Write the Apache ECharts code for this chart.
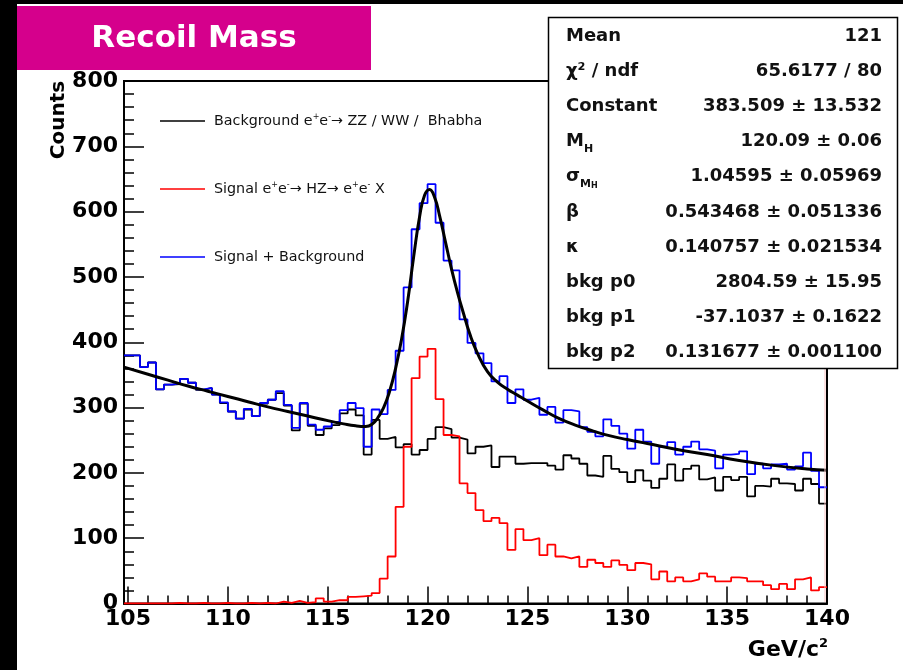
<!DOCTYPE html>
<html>
<head>
<meta charset="utf-8">
<script src="https://cdn.jsdelivr.net/npm/echarts@6/dist/echarts.min.js"></script>
<style>
  html, body { margin: 0; padding: 0; background: #ffffff; }
  #chart { width: 903px; height: 670px; }
</style>
</head>
<body>
<div id="chart"></div>
<script>
// Histogram binning: 88 bins of 0.4 GeV
const HIST_MIN = 104.8;
const HIST_MAX = 140.0;
const N_BINS = 88;

// Background e+e- -> ZZ / WW / Bhabha (counts per bin)
const background = [
  380, 380, 362, 369, 328, 335, 336, 344, 338, 327,
  330, 320, 307, 294, 283, 297, 287, 306, 312, 322,
  303, 265, 306, 272, 258, 268, 273, 291, 297, 288,
  228, 281, 252, 255, 239, 244, 228, 235, 252, 270,
  267, 254, 251, 230, 240, 242, 209, 225, 225, 214,
  215, 215, 215, 211, 205, 227, 222, 214, 196, 194,
  226, 206, 201, 186, 204, 188, 177, 191, 213, 188,
  206, 211, 190, 193, 173, 194, 189, 194, 164, 180,
  179, 191, 184, 183, 173, 191, 183, 153
];

// Signal e+e- -> HZ -> e+e- X
const signal = [
  0, 0, 0, 0, 0, 0, 1, 0, 0, 1,
  0, 0, 1, 0, 0, 1, 0, 1, 0, 3,
  1, 4, 1, 2, 8, 3, 5, 5, 10, 11,
  12, 16, 38, 72, 148, 240, 345, 378, 390, 313,
  258, 256, 184, 169, 143, 126, 131, 123, 82, 114,
  97, 100, 74, 90, 72, 69, 72, 56, 67, 62,
  56, 66, 59, 51, 62, 60, 37, 49, 34, 40,
  34, 37, 46, 41, 34, 34, 40, 39, 34, 34,
  28, 22, 30, 22, 37, 40, 20, 25
];

// Signal + Background
const total = [
  380, 380, 362, 369, 328, 335, 337, 344, 338, 328,
  330, 320, 308, 294, 283, 298, 287, 307, 312, 325,
  304, 269, 307, 274, 266, 271, 278, 296, 307, 299,
  240, 297, 290, 327, 387, 484, 573, 613, 642, 583,
  525, 510, 435, 399, 383, 368, 340, 348, 307, 328,
  312, 315, 289, 301, 277, 296, 294, 270, 263, 256,
  282, 272, 260, 237, 266, 248, 214, 240, 247, 228,
  240, 248, 236, 234, 207, 228, 229, 233, 198, 214,
  207, 213, 214, 205, 210, 231, 203, 178
];

// Fitted curve (signal peak + quadratic background), sampled along the axis
const fitX = [104.8, 106, 107, 108, 109, 110, 111, 112, 113, 114, 115, 115.8, 116.4, 116.9,
  117.2, 117.5, 117.8, 118.1, 118.4, 118.7, 119.0, 119.3, 119.6, 119.85, 120.1, 120.35,
  120.6, 120.9, 121.2, 121.5, 121.8, 122.1, 122.5, 123.0, 123.5, 124.0, 124.5, 125.0,
  125.8, 126.6, 127.5, 128.3, 129.1, 130, 131, 132.3, 134, 135.6, 137.3, 139, 140];
const fitY = [362, 351, 342, 333, 325, 317, 309, 301, 294, 287, 280, 275, 272, 271,
  274, 284, 300, 325, 360, 405, 462, 530, 592, 625, 634, 622,
  594, 553, 512, 476, 444, 414, 383, 355, 339, 328, 319, 310,
  296, 283, 272, 264, 257, 251, 245, 237, 228, 219, 211.5, 206, 204];

// Axis ticks
const xMajorTicks = [105, 110, 115, 120, 125, 130, 135, 140];
const xMinorTicks = [];
for (let v = 105; v <= 140; v++) xMinorTicks.push(v);

// Fit results box
const statLabels = ['Mean', 'χ² / ndf', 'Constant', 'M{sub|H}', 'σ{sub|M}{sub2|H}', 'β', 'κ', 'bkg p0', 'bkg p1', 'bkg p2'];
const statValues = ['121', '65.6177 / 80', '383.509 ± 13.532', '120.09 ± 0.06', '1.04595 ± 0.05969',
  '0.543468 ± 0.051336', '0.140757 ± 0.021534', '2804.59 ± 15.95', '-37.1037 ± 0.1622', '0.131677 ± 0.001100'];

const FONT = "'DejaVu Sans', sans-serif";
const binWidth = (HIST_MAX - HIST_MIN) / N_BINS;

function stepData(values) {
  const pts = values.map((v, i) => [HIST_MIN + i * binWidth, v]);
  pts.push([HIST_MAX, values[values.length - 1]]);
  return pts;
}

const chart = echarts.init(document.getElementById('chart'), null, { renderer: 'canvas' });

const grid = { left: 124, right: 76, top: 81, bottom: 66.5 };

const graphics = [
  // dark border strips
  { type: 'rect', shape: { x: 0, y: 0, width: 17, height: 670 }, style: { fill: '#000' }, z: 100 },
  { type: 'rect', shape: { x: 0, y: 0, width: 903, height: 4 }, style: { fill: '#000' }, z: 100 },
  // title banner
  { type: 'rect', shape: { x: 17, y: 6, width: 354, height: 64 }, style: { fill: '#d5008c' }, z: 100 },
  { type: 'text', x: 194, y: 39, z: 101,
    style: { text: 'Recoil Mass', fill: '#fff', font: "bold 31px " + FONT, align: 'center', verticalAlign: 'middle' } },
  // axis titles
  { type: 'text', x: 59, y: 120, rotation: Math.PI / 2, z: 101,
    style: { text: 'Counts', fill: '#000', font: "bold 20px " + FONT, align: 'center', verticalAlign: 'middle' } },
  { type: 'text', x: 828, y: 650, z: 101,
    style: { text: 'GeV/c{sup|2}', fill: '#000', font: "bold 22px " + FONT, align: 'right', verticalAlign: 'middle',
      rich: { sup: { fontSize: 13, fontWeight: 'bold', fontFamily: FONT, verticalAlign: 'top', lineHeight: 26, fill: '#000' } } } },
  // right frame edge tint
  { type: 'line', shape: { x1: 825, y1: 369, x2: 825, y2: 602 }, style: { stroke: '#f8c4c4', lineWidth: 1 }, z: 50 }
];

// legend
const legendItems = [
  { color: '#000000', y: 121, text: 'Background e{sup|+}e{sup|-}→ ZZ / WW /  Bhabha' },
  { color: '#ff0000', y: 189, text: 'Signal e{sup|+}e{sup|-}→ HZ→ e{sup|+}e{sup|-} X' },
  { color: '#0000ff', y: 257, text: 'Signal + Background' }
];
legendItems.forEach(it => {
  graphics.push({ type: 'line', shape: { x1: 160, y1: it.y, x2: 205, y2: it.y },
    style: { stroke: it.color, lineWidth: 1.6 }, z: 60 });
  graphics.push({ type: 'text', x: 214, y: it.y, z: 60,
    style: { text: it.text, fill: '#111', font: "14.3px " + FONT, align: 'left', verticalAlign: 'middle',
      rich: { sup: { fontSize: 8, fontFamily: FONT, verticalAlign: 'top', lineHeight: 16, fill: '#111' } } } });
});

// stats box
graphics.push({ type: 'rect', shape: { x: 548.5, y: 17.5, width: 349, height: 351 },
  style: { fill: '#fff', stroke: '#000', lineWidth: 1.5 }, z: 200 });
const subRich = {
  sub: { fontSize: 11, fontWeight: 'bold', fontFamily: FONT, verticalAlign: 'bottom', lineHeight: 26, fill: '#111' },
  sub2: { fontSize: 8, fontWeight: 'bold', fontFamily: FONT, verticalAlign: 'bottom', lineHeight: 24, fill: '#111' }
};
statLabels.forEach((lab, i) => {
  const y = 36 + i * 35.2;
  graphics.push({ type: 'text', x: 566, y: y, z: 201,
    style: { text: lab, fill: '#111', font: "bold 18px " + FONT, align: 'left', verticalAlign: 'middle', rich: subRich } });
  graphics.push({ type: 'text', x: 882, y: y, z: 201,
    style: { text: statValues[i], fill: '#111', font: "bold 18px " + FONT, align: 'right', verticalAlign: 'middle' } });
});

const xAxisCommon = { type: 'value', min: HIST_MIN, max: HIST_MAX, position: 'bottom', splitLine: { show: false } };

chart.setOption({
  animation: false,
  backgroundColor: '#ffffff',
  grid: Object.assign({ show: true, borderColor: '#000', borderWidth: 2, backgroundColor: 'transparent' }, grid),
  xAxis: [
    Object.assign({}, xAxisCommon, {
      axisLine: { show: true, lineStyle: { color: '#000', width: 2 } },
      axisTick: { show: true, inside: true, length: 17, customValues: xMajorTicks, lineStyle: { color: '#000', width: 1.5 } },
      axisLabel: { show: true, customValues: xMajorTicks, color: '#000', fontFamily: FONT, fontWeight: 'bold', fontSize: 22, margin: 5 }
    }),
    Object.assign({}, xAxisCommon, {
      axisLine: { show: false },
      axisTick: { show: true, inside: true, length: 8, customValues: xMinorTicks, lineStyle: { color: '#000', width: 1.5 } },
      axisLabel: { show: false }
    })
  ],
  yAxis: {
    type: 'value', min: 0, max: 800, interval: 100,
    axisLine: { show: true, lineStyle: { color: '#000', width: 2 } },
    axisTick: { show: true, inside: true, length: 20, lineStyle: { color: '#000', width: 1.5 } },
    minorTick: { show: true, splitNumber: 5, length: 10, lineStyle: { color: '#000', width: 1.5 } },
    axisLabel: { color: '#000', fontFamily: FONT, fontWeight: 'bold', fontSize: 22, margin: 6 },
    splitLine: { show: false }, minorSplitLine: { show: false }
  },
  series: [
    { name: 'Background', type: 'line', step: 'end', data: stepData(background), symbol: 'none',
      lineStyle: { color: '#000', width: 1.8 }, z: 2 },
    { name: 'Signal + Background', type: 'line', step: 'end', data: stepData(total), symbol: 'none',
      lineStyle: { color: '#0000ff', width: 1.8 }, z: 3 },
    { name: 'Signal', type: 'line', step: 'end', data: stepData(signal), symbol: 'none',
      lineStyle: { color: '#ff0000', width: 1.8 }, z: 4 },
    { name: 'Fit', type: 'line', smooth: 0.5, symbol: 'none',
      data: fitX.map((x, i) => [x, fitY[i]]), lineStyle: { color: '#000', width: 3, join: 'round' }, z: 5 }
  ],
  graphic: graphics
});
</script>
</body>
</html>
